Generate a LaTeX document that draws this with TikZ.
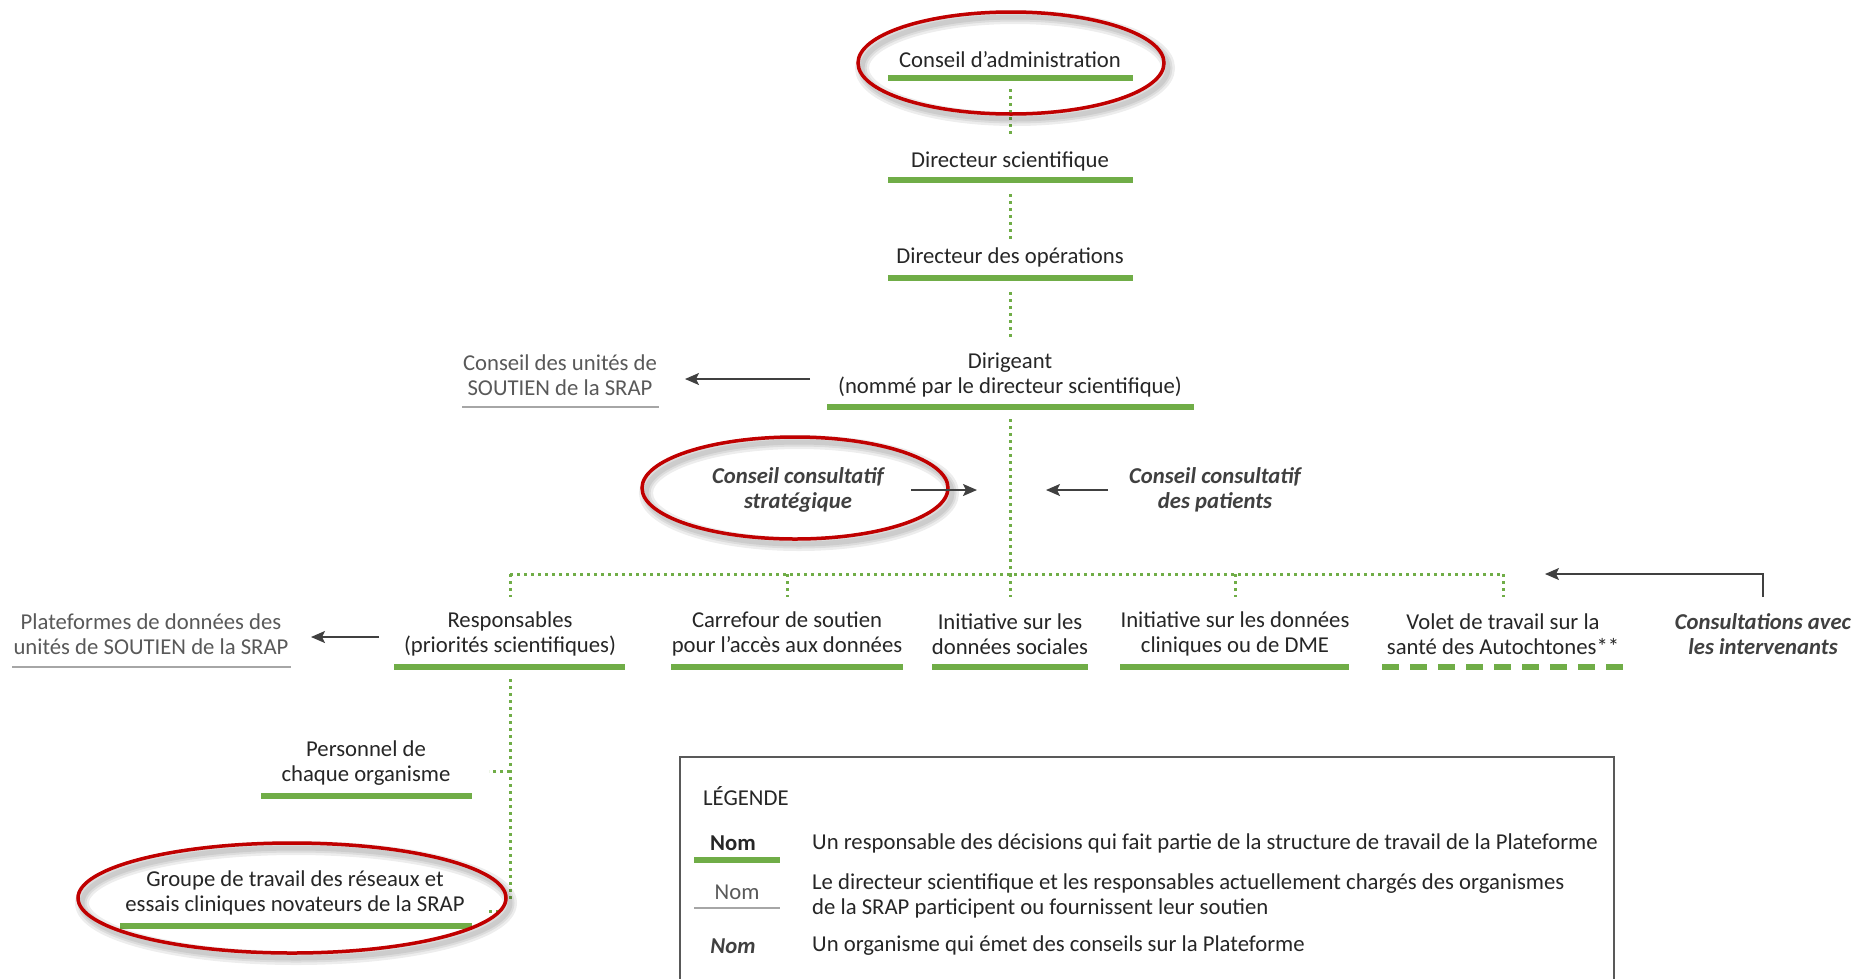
\documentclass[tikz,border=0pt]{standalone}
\usepackage{fontspec}
\setmainfont{Carlito}
\usetikzlibrary{arrows.meta,calc}
\definecolor{grn}{HTML}{70AD47}
\definecolor{txt}{HTML}{262626}
\definecolor{gtx}{HTML}{595959}
\definecolor{gbarc}{HTML}{A6A6A6}
\definecolor{arrc}{HTML}{404040}
\definecolor{redc}{HTML}{C00000}
\newcommand\figsz{\fontsize{22.7}{24.5}\selectfont}
\tikzset{
  lbl/.style={font=\figsz, text=txt, align=center, inner sep=0pt},
  graylbl/.style={lbl, text=gtx},
  advlbl/.style={lbl, text=arrc, font=\figsz\bfseries\itshape},
  gbar/.style={draw=grn, line width=6pt},
  gybar/.style={draw=gbarc, line width=2pt},
  gdash/.style={draw=grn, line width=6pt, dash pattern=on 17pt off 11pt},
  dotl/.style={draw=grn, line width=3pt, dash pattern=on 3pt off 4pt},
  arr/.style={draw=arrc, line width=1.8pt, -{Stealth[length=14pt,width=12pt,inset=3pt]}},
  redell/.style={draw=redc, line width=3.5pt},
  shad/.style={draw=black, opacity=0.07},
}
\newcommand\redring[3]{%
  \draw[shad, line width=14pt] ($(#1)+(4,5)$) ellipse [x radius=#2pt, y radius=#3pt];
  \draw[shad, line width=9pt] ($(#1)+(4,5)$) ellipse [x radius=#2pt, y radius=#3pt];
  \draw[shad, line width=5pt] ($(#1)+(4,5)$) ellipse [x radius=#2pt, y radius=#3pt];
  \draw[redell] (#1) ellipse [x radius=#2pt, y radius=#3pt];
}
\begin{document}
\begin{tikzpicture}[x=1pt,y=-1pt]
\useasboundingbox[fill=white] (0,0) rectangle (1868,978);

% ---------- top chain ----------
\node[lbl] (ca) at (1010,60) {Conseil d’administration};
\node[lbl] (ds) at (1010,161) {Directeur scientifique};
\node[lbl] (dop) at (1010,257) {Directeur des opérations};
\node[lbl] (dir) at (1010,375) {Dirigeant\\(nommé par le directeur scientifique)};
\node[graylbl] (csu) at (560,375) {Conseil des unités de\\SOUTIEN de la SRAP};
\node[advlbl] (ccs) at (798,490) {Conseil consultatif\\stratégique};
\node[advlbl] (ccp) at (1215,490) {Conseil consultatif\\des patients};

% bars
\draw[gbar] (888,78) -- (1133,78);
\draw[gbar] (888,180) -- (1133,180);
\draw[gbar] (888,278) -- (1133,278);
\draw[gbar] (827,407) -- (1194,407);
\draw[gybar] (462,407) -- (659,407);

% coordinates for connectors
\coordinate (caB) at (1010,89);
\coordinate (dsT) at (1010,137);
\coordinate (dsB) at (1010,194);
\coordinate (dopT) at (1010,240);
\coordinate (dopB) at (1010,292);
\coordinate (dirT) at (1010,337);
\coordinate (dirB) at (1010,419);
\coordinate (hubC) at (1010,574);
\coordinate (hubL) at (510,574);
\coordinate (hubR) at (1503,574);

\draw[dotl] (caB) -- (dsT);
\draw[dotl] (dsB) -- (dopT);
\draw[dotl] (dopB) -- (dirT);
\draw[dotl] (dirB) -- (hubC);
\draw[dotl] (hubL) -- (hubR);

% arrows around the leader
\coordinate (a1s) at (810,379); \coordinate (a1e) at (685,379);
\draw[arr] (a1s) -- (a1e);
\coordinate (a2s) at (911,490); \coordinate (a2e) at (977,490);
\coordinate (a3s) at (1108,490); \coordinate (a3e) at (1046,490);
\draw[arr] (a3s) -- (a3e);

% ---------- row of leads ----------
\node[lbl] (resp) at (510,634) {Responsables\\(priorités scientifiques)};
\node[lbl] (carr) at (787,634) {Carrefour de soutien\\pour l’accès aux données};
\node[lbl] (ins) at (1010,634) {Initiative sur les\\données sociales};
\node[lbl] (inc) at (1235,634) {Initiative sur les données\\cliniques ou de DME};
\node[lbl] (vol) at (1503,634) {Volet de travail sur la\\santé des Autochtones**};
\node[advlbl] (cons) at (1763,634) {Consultations avec\\les intervenants};
\node[graylbl] (plat) at (151,634) {Plateformes de données des\\unités de SOUTIEN de la SRAP};

\draw[gbar] (394,667) -- (625,667);
\draw[gbar] (671,667) -- (903,667);
\draw[gbar] (932,667) -- (1088,667);
\draw[gbar] (1120,667) -- (1349,667);
\draw[gdash] (1382,667) -- (1623,667);
\draw[gybar] (12,667) -- (291,667);

\foreach \x/\n in {510/resp,787/carr,1010/ins,1235/inc,1503/vol}{
  \coordinate (d\n) at (\x,597);
  \draw[dotl] (\x,574) -- (d\n);
}

\coordinate (a4s) at (379,637); \coordinate (a4e) at (311,637);
\draw[arr] (a4s) -- (a4e);
\coordinate (c1) at (1763,597); \coordinate (c2) at (1763,574); \coordinate (c3) at (1545,574);
\draw[arr] (c1) -- (c2) -- (c3);

% ---------- under Responsables ----------
\node[lbl] (pers) at (366,763) {Personnel de\\chaque organisme};
\node[lbl] (grp) at (295,893) {Groupe de travail des réseaux et\\essais cliniques novateurs de la SRAP};
\draw[gbar] (261,796) -- (472,796);
\draw[gbar] (120,926) -- (472,926);

\coordinate (rB) at (510,679);
\coordinate (rE) at (510,899);
\coordinate (rM) at (510,771);
\coordinate (pE) at (489,771);
\draw[dotl] (rB) -- (rE);
\draw[dotl] (rM) -- (pE);
\coordinate (g1) at (489,911); \coordinate (g2) at (501,911);
\draw[dotl] (g1) -- (g2);

% ---------- red rings ----------
\coordinate (e1) at (1011,63);
\coordinate (e2) at (795,488);
\coordinate (e3) at (292,898);
\redring{e1}{153}{51}
\redring{e2}{153}{51}
\redring{e3}{214}{55}
\draw[arr] (a2s) -- (a2e);

% ---------- legend ----------
\node[draw=gtx, line width=1.5pt, minimum width=934pt, minimum height=240pt, anchor=north west, inner sep=0pt] (leg) at (679,756) {};
\node[lbl, anchor=west] (legt) at (703,796) {LÉGENDE};
\node[lbl, font=\figsz\bfseries] (n1) at (733,843) {Nom};
\draw[gbar] (694,860) -- (780,860);
\node[lbl, anchor=west] (t1) at (812,843) {Un responsable des décisions qui fait partie de la structure de travail de la Plateforme};
\node[graylbl] (n2) at (737,892) {Nom};
\draw[gybar] (694,908) -- (780,908);
\node[lbl, anchor=west, align=left] (t2) at (812,896) {Le directeur scientifique et les responsables actuellement chargés des organismes\\de la SRAP participent ou fournissent leur soutien};
\node[advlbl] (n3) at (733,946) {Nom};
\node[lbl, anchor=west] (t3) at (812,946) {Un organisme qui émet des conseils sur la Plateforme};
\end{tikzpicture}
\end{document}
